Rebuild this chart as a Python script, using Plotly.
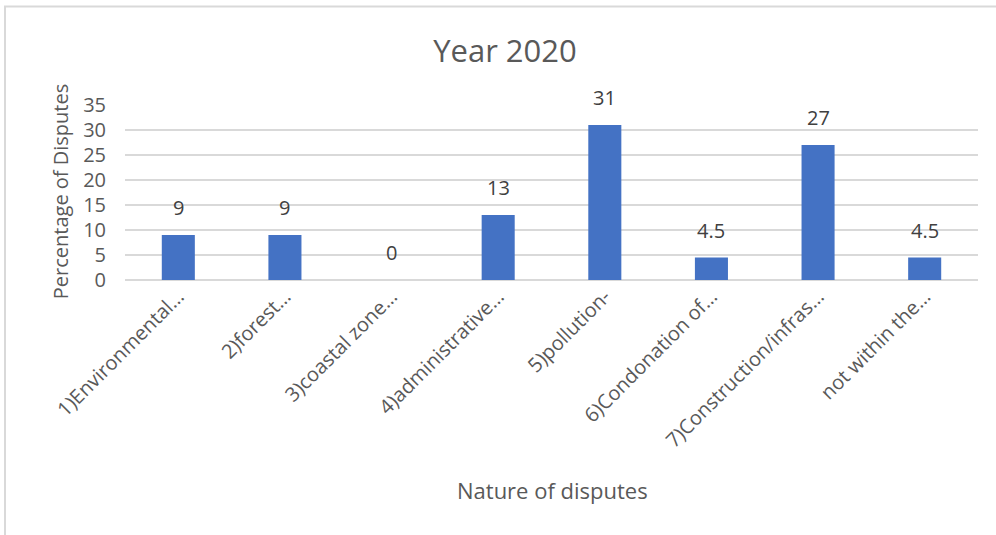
import plotly.graph_objects as go

categories = ["1)Environmental…", "2)forest…", "3)coastal zone…", "4)administrative…",
              "5)pollution-", "6)Condonation of…", "7)Construction/infras…", "not within the…"]
values = [9, 9, 0, 13, 31, 4.5, 27, 4.5]
value_labels = ["9", "9", "0", "13", "31", "4.5", "27", "4.5"]
y_ticks = [0, 5, 10, 15, 20, 25, 30, 35]

FONT = "Open Sans"
TXT = "#595959"

fig = go.Figure()
fig.add_trace(go.Bar(x=categories, y=values, marker=dict(color="#4472C4", line=dict(width=0)),
                     hoverinfo="skip"))

for c, v, t in zip(categories, values, value_labels):
    fig.add_annotation(x=c, y=v, text=t, showarrow=False, yanchor="bottom", yshift=12,
                       font=dict(family=FONT, size=20, color="#404040"))

# axis titles as annotations for precise placement
fig.add_annotation(xref="paper", yref="paper", x=0.5006, y=-1.2, text="Nature of disputes",
                   showarrow=False, xanchor="center", yanchor="middle",
                   font=dict(family=FONT, size=22, color=TXT))
fig.add_annotation(xref="paper", yref="paper", x=-0.0755, y=0.505, text="Percentage of Disputes",
                   showarrow=False, xanchor="center", yanchor="middle", textangle=-90,
                   font=dict(family=FONT, size=20, color=TXT))

fig.update_layout(
    width=996, height=535,
    margin=dict(l=125, r=18, t=105, b=255),
    paper_bgcolor="white", plot_bgcolor="white",
    bargap=0.69,
    showlegend=False,
    title=dict(text="Year 2020", x=0.507, xanchor="center", y=0.905, yanchor="middle",
               font=dict(family=FONT, size=31, color=TXT)),
    font=dict(family=FONT, color=TXT),
    shapes=[dict(type="rect", xref="paper", yref="paper", x0=-0.1407, x1=1.1, y0=-2.0, y1=1.563,
                 line=dict(color="#D9D9D9", width=2), fillcolor="rgba(0,0,0,0)", layer="below")],
)
fig.update_xaxes(tickangle=-45, tickfont=dict(family=FONT, size=20, color=TXT),
                 showline=False, showgrid=False, ticks="", automargin=False)
fig.update_yaxes(range=[0, 35], tickvals=y_ticks, showgrid=True, gridcolor="#D9D9D9", gridwidth=2,
                 zeroline=True, zerolinecolor="#D9D9D9", zerolinewidth=2,
                 tickfont=dict(family=FONT, size=20, color=TXT), ticks="", automargin=False,
                 ticklabelstandoff=18)

fig.write_html("out.html")
